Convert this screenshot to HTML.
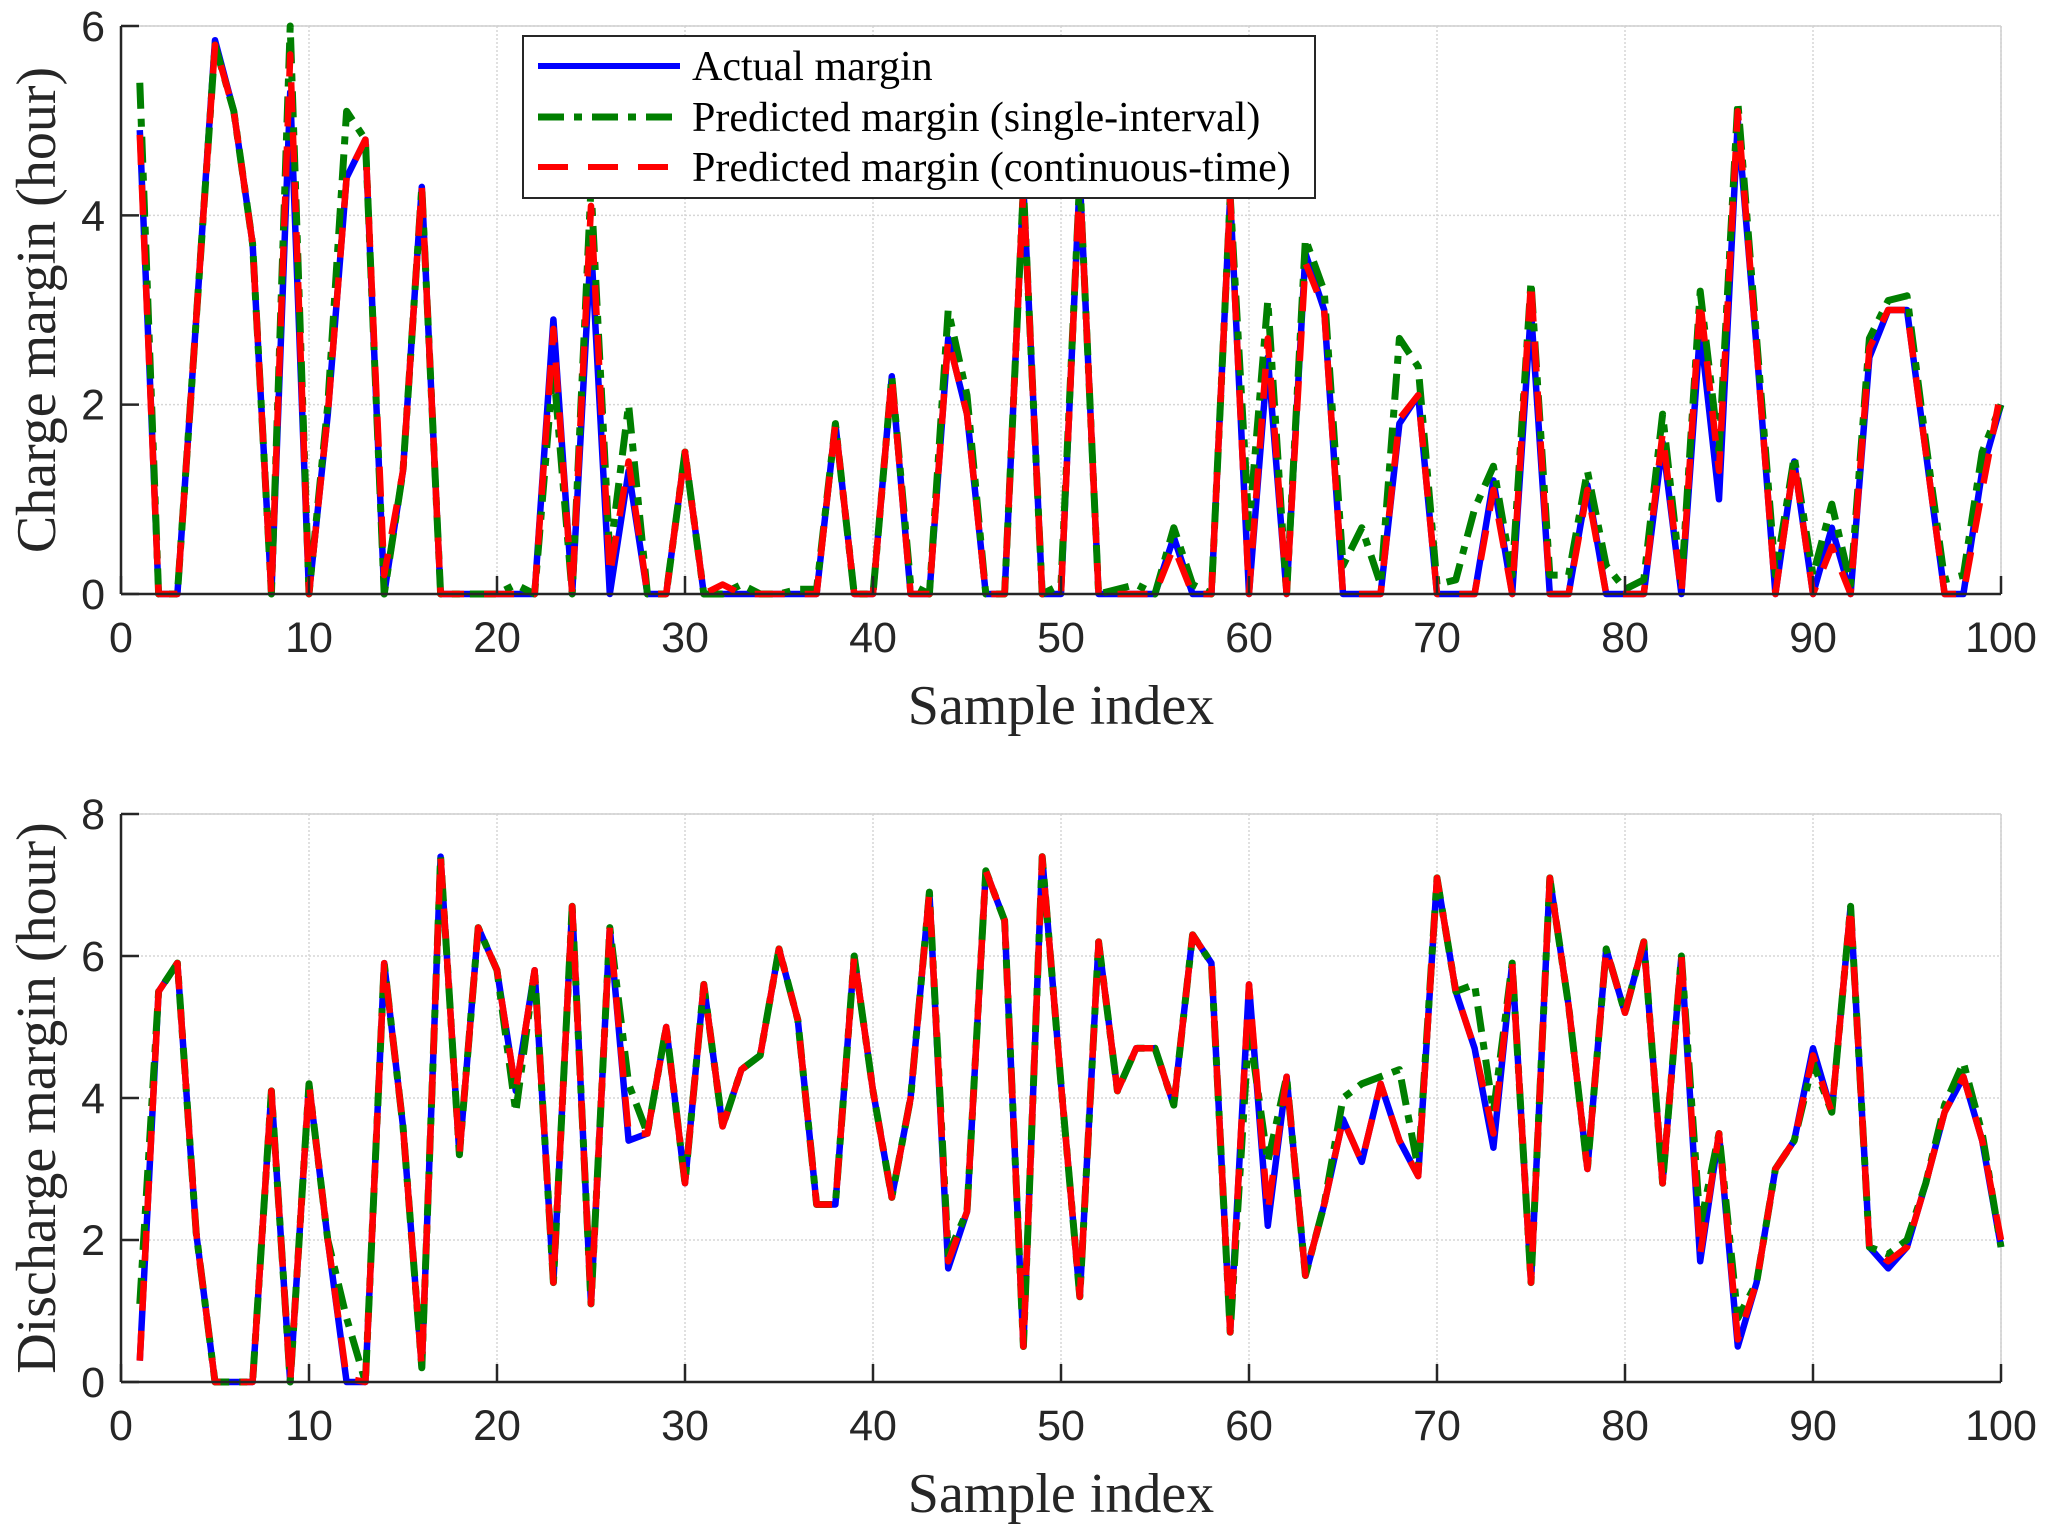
<!DOCTYPE html>
<html><head><meta charset="utf-8"><style>
html,body{margin:0;padding:0;background:#fff;}
svg{display:block;}
.tick{font-family:"Liberation Sans",Arial,sans-serif;font-size:43px;fill:#262626;}
.lab{font-family:"Liberation Serif","Times New Roman",serif;font-size:56px;fill:#262626;}
.leg{font-family:"Liberation Serif","Times New Roman",serif;font-size:42px;fill:#000;}
</style></head><body>
<svg id="chart" width="2058" height="1539" viewBox="0 0 2058 1539" xmlns="http://www.w3.org/2000/svg">
<g id="top"></g>
<g id="bot"></g>
<g id="legend">
<rect x="523" y="36" width="792" height="162" fill="#fff" stroke="#262626" stroke-width="2"/>
<line x1="538" y1="66" x2="680" y2="66" stroke="#0000ff" stroke-width="6"/>
<text class="leg" x="692" y="80">Actual margin</text>
<line x1="538" y1="117" x2="680" y2="117" stroke="#007f00" stroke-width="7" stroke-dasharray="26,10,8,10"/>
<text class="leg" x="692" y="131">Predicted margin (single-interval)</text>
<line x1="538" y1="167" x2="680" y2="167" stroke="#ff0000" stroke-width="6" stroke-dasharray="30,20"/>
<text class="leg" x="692" y="181">Predicted margin (continuous-time)</text>
</g>
</svg>
<script>
const xTicks=[0,10,20,30,40,50,60,70,80,90,100];
const chargeTicks=[0,2,4,6];
const dischargeTicks=[0,2,4,6,8];
const chargeActual=[4.9,0,0,2.9,5.85,5.1,3.7,0,5.3,0,1.9,4.4,4.8,0,1.3,4.3,0,0,0,0,0,0,2.9,0,3.7,0,1.3,0,0,1.5,0,0,0,0,0,0,0,1.8,0,0,2.3,0,0,2.7,1.9,0,0,4.3,0,0,4.4,0,0,0,0,0.6,0,0,4.2,0,2.5,0,3.6,3.0,0,0,0,1.8,2.1,0,0,0,1.2,0,3.0,0,0,1.15,0,0,0,1.6,0,2.8,1.0,5.0,2.6,0,1.4,0,0.7,0,2.5,3.0,3.0,1.5,0,0,1.3,2.0];
const chargeSingle=[5.4,0,0,2.9,5.8,5.1,3.7,0,6.0,0,2.0,5.1,4.8,0,1.3,4.3,0,0,0,0,0.1,0,2.4,0,4.3,0.4,2.0,0,0,1.5,0,0,0.1,0,0,0.05,0.05,1.8,0,0,2.3,0.1,0,3.0,2.1,0,0,4.3,0,0.1,4.4,0,0.05,0.1,0,0.7,0.1,0,4.2,0.7,3.1,0,3.75,3.2,0.3,0.7,0.1,2.7,2.4,0.1,0.15,0.9,1.35,0.2,3.3,0.2,0.2,1.3,0.3,0.05,0.15,1.9,0.1,3.2,1.5,5.2,2.7,0.2,1.45,0.2,0.95,0.1,2.7,3.1,3.15,1.6,0.15,0.2,1.5,2.0];
const chargeCont=[4.85,0,0,2.9,5.8,5.1,3.7,0,5.7,0,1.9,4.4,4.8,0.2,1.3,4.3,0,0,0,0,0,0,2.8,0,4.1,0.2,1.4,0,0,1.5,0,0.1,0,0,0,0,0,1.8,0,0,2.3,0,0,2.7,1.9,0,0,4.3,0,0,4.4,0,0,0,0,0.5,0,0,4.2,0,2.7,0,3.5,3.0,0,0,0,1.85,2.1,0,0,0,1.1,0,3.3,0,0,1.1,0,0,0,1.7,0,3.1,1.3,5.1,2.6,0,1.4,0,0.5,0,2.6,3.0,3.0,1.5,0,0,1.1,2.15];
const disActual=[0.3,5.5,5.9,2.1,0,0,0,4.1,0,4.2,2.0,0,0,5.9,3.6,0.2,7.4,3.2,6.4,5.8,4.1,5.8,1.4,6.7,1.1,6.4,3.4,3.5,5.0,2.8,5.6,3.6,4.4,4.6,6.1,5.1,2.5,2.5,6.0,4.1,2.6,4.0,6.9,1.6,2.4,7.2,6.5,0.5,7.4,4.2,1.2,6.2,4.1,4.7,4.7,3.9,6.3,5.9,0.7,5.6,2.2,4.3,1.5,2.5,3.7,3.1,4.2,3.4,2.9,7.1,5.5,4.7,3.3,5.9,1.4,7.1,5.3,3.0,6.1,5.2,6.2,2.8,6.0,1.7,3.5,0.5,1.4,3.0,3.4,4.7,3.8,6.7,1.9,1.6,1.9,2.8,3.8,4.3,3.4,1.9];
const disSingle=[1.1,5.5,5.9,2.1,0,0,0,4.1,0,4.2,2.0,0.9,0,5.9,3.6,0.2,7.4,3.2,6.4,5.8,3.8,5.8,1.4,6.7,1.1,6.4,4.2,3.5,5.0,2.8,5.6,3.6,4.4,4.6,6.1,5.1,2.5,2.5,6.0,4.1,2.6,4.0,6.9,1.8,2.4,7.2,6.5,0.5,7.4,4.2,1.2,6.2,4.1,4.7,4.7,3.9,6.3,5.9,0.7,5.0,3.1,4.3,1.5,2.5,4.0,4.2,4.3,4.4,3.0,7.1,5.5,5.6,3.8,5.9,1.4,7.1,5.3,3.0,6.1,5.2,6.2,2.8,6.0,2.2,3.5,0.9,1.4,3.0,3.4,4.5,3.8,6.7,1.9,1.8,2.0,2.8,3.9,4.5,3.5,1.9];
const disCont=[0.3,5.5,5.9,2.1,0,0,0,4.1,0,4.2,2.0,0.05,0,5.9,3.6,0.2,7.4,3.2,6.4,5.8,4.1,5.8,1.4,6.7,1.1,6.4,3.5,3.5,5.0,2.8,5.6,3.6,4.4,4.6,6.1,5.1,2.5,2.5,6.0,4.1,2.6,4.0,6.9,1.7,2.4,7.2,6.5,0.5,7.4,4.2,1.2,6.2,4.1,4.7,4.7,3.9,6.3,5.9,0.7,5.6,2.4,4.3,1.5,2.5,3.7,3.1,4.2,3.4,2.9,7.1,5.5,4.7,3.5,5.9,1.4,7.1,5.3,3.0,6.1,5.2,6.2,2.8,6.0,1.8,3.5,0.6,1.4,3.0,3.4,4.6,3.8,6.7,1.9,1.7,1.9,2.8,3.8,4.3,3.4,2.0];

const NS="http://www.w3.org/2000/svg";
const X0=121,X1=2001;
function mk(tag,attrs,parent){const e=document.createElementNS(NS,tag);for(const k in attrs)e.setAttribute(k,attrs[k]);parent.appendChild(e);return e;}
function xs(v){return X0+(X1-X0)*v/100;}
function drawPlot(g,yTop,yBot,ymax,yticks,series,ylabel,prefix){
  const ys=v=>yBot-(yBot-yTop)*v/ymax;
  xTicks.forEach(t=>{if(t>0){const l=mk('line',{x1:xs(t),x2:xs(t),y1:yTop,y2:yBot,stroke:'#d6d6d6','stroke-width':1.5,'stroke-dasharray':'2,2'},g);
    
    }});
  yticks.forEach(t=>{if(t>0){const l=mk('line',{x1:X0,x2:X1,y1:ys(t),y2:ys(t),stroke:'#d6d6d6','stroke-width':1.5,'stroke-dasharray':'2,2'},g);
    
    }});
  mk('line',{x1:X0,x2:X1,y1:yTop,y2:yTop,stroke:'#cfcfcf','stroke-width':1.5},g);
  mk('line',{x1:X1,x2:X1,y1:yTop,y2:yBot,stroke:'#cfcfcf','stroke-width':1.5},g);
  series.forEach(s=>{
    const p=s.data.map((v,i)=>xs(i+1).toFixed(1)+','+ys(v).toFixed(1)).join(' ');
    const pl=mk('polyline',{points:p,fill:'none',stroke:s.color,'stroke-width':s.w,'stroke-linejoin':'round','stroke-dasharray':s.dash||'none'},g);
    
    
  });
  mk('line',{x1:X0,x2:X1,y1:yBot,y2:yBot,stroke:'#262626','stroke-width':2.5},g);
  mk('line',{x1:X0,x2:X0,y1:yTop,y2:yBot,stroke:'#262626','stroke-width':2.5},g);
  xTicks.forEach(t=>{
    mk('line',{x1:xs(t),x2:xs(t),y1:yBot,y2:yBot-18,stroke:'#262626','stroke-width':2.5},g);
    const tx=mk('text',{class:'tick',x:xs(t),y:yBot+58,'text-anchor':'middle'},g);tx.textContent=t;
    
    
  });
  yticks.forEach(t=>{
    mk('line',{x1:X0,x2:X0+18,y1:ys(t),y2:ys(t),stroke:'#262626','stroke-width':2.5},g);
    const tx=mk('text',{class:'tick',x:X0-16,y:ys(t)+15,'text-anchor':'end'},g);tx.textContent=t;
    
    
  });
  const xl=mk('text',{class:'lab',x:(X0+X1)/2,y:yBot+130,'text-anchor':'middle'},g);xl.textContent='Sample index';
  
  
  const cy=(yTop+yBot)/2;
  const yl=mk('text',{class:'lab',x:0,y:0,'text-anchor':'middle',transform:'translate(55,'+cy+') rotate(-90)'},g);yl.textContent=ylabel;
  
  
}
drawPlot(document.getElementById('top'),26,594,6,chargeTicks,[
 {name:'actual',data:chargeActual,color:'#0000ff',w:6.5},
 {name:'single-interval',data:chargeSingle,color:'#007f00',w:7,dash:'26,10,8,10'},
 {name:'continuous-time',data:chargeCont,color:'#ff0000',w:6.5,dash:'30,20'}],'Charge margin (hour)','charge');
drawPlot(document.getElementById('bot'),814,1382,8,dischargeTicks,[
 {name:'actual',data:disActual,color:'#0000ff',w:6.5},
 {name:'single-interval',data:disSingle,color:'#007f00',w:7,dash:'26,10,8,10'},
 {name:'continuous-time',data:disCont,color:'#ff0000',w:6.5,dash:'30,20'}],'Discharge margin (hour)','discharge');
document.getElementById('chart').appendChild(document.getElementById('legend'));
</script>
</body></html>
